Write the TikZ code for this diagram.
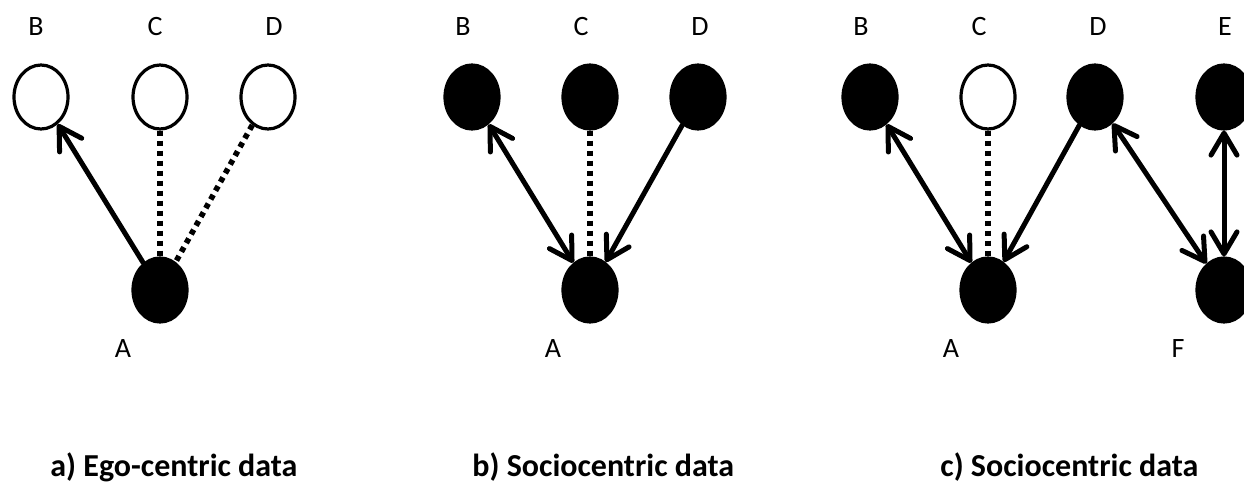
\documentclass[tikz,border=0pt]{standalone}
\usepackage{fontspec}
\setmainfont{Carlito}
\usetikzlibrary{shapes.geometric,arrows.meta}
\tikzset{
  pers/.style={ellipse,draw=black,line width=1.6pt,minimum width=27pt,minimum height=32pt,inner sep=0pt},
  openperson/.style={pers,fill=white},
  filledperson/.style={pers,fill=black},
  lbl/.style={font=\fontsize{14}{16}\selectfont,inner sep=0pt},
  captiontext/.style={font=\fontsize{16}{19}\selectfont\bfseries,inner sep=0pt,anchor=base west},
  tie/.style={line width=2.5pt,line cap=round,line join=round,
    arrows={-Straight Barb[length=11pt,width=13pt,line cap=round,line join=round]}},
  both/.style={tie,arrows={Straight Barb[length=11pt,width=13pt,line cap=round,line join=round]-Straight Barb[length=11pt,width=13pt,line cap=round,line join=round]}},
  unk/.style={line width=2.8pt,dash pattern=on 2.6pt off 2.4pt}
}
\begin{document}
\begin{tikzpicture}[x=0.5pt,y=-0.5pt]
\useasboundingbox (0,0) rectangle (1244,482);
\clip (0,0) rectangle (1244,482);
% panel a
\node[openperson] (aB) at (41,97) {};
\node[openperson] (aC) at (160,97) {};
\node[openperson] (aD) at (268,97) {};
\node[filledperson] (aA) at (160,290) {};
\node[lbl] (laB) at (36,27) {B};
\node[lbl] (laC) at (155,27) {C};
\node[lbl] (laD) at (274,27) {D};
\node[lbl] (laA) at (123,349) {A};
\draw[tie] (aA) -- (aB);
\draw[unk] (aC) -- (aA);
\draw[unk] (aD) -- (aA);
\node[captiontext] (capa) at (50,476) {a) Ego-centric data};
% panel b
\node[filledperson] (bB) at (472,97) {};
\node[filledperson] (bC) at (590,97) {};
\node[filledperson] (bD) at (698,97) {};
\node[filledperson] (bA) at (590,290) {};
\node[lbl] (lbB) at (463,27) {B};
\node[lbl] (lbC) at (581,27) {C};
\node[lbl] (lbD) at (700,27) {D};
\node[lbl] (lbA) at (553,349) {A};
\draw[both] (bB) -- (bA);
\draw[unk] (bC) -- (bA);
\draw[tie] (bD) -- (bA);
\node[captiontext] (capb) at (472,476) {b) Sociocentric data};
% panel c
\node[filledperson] (cB) at (870,97) {};
\node[openperson] (cC) at (988,97) {};
\node[filledperson] (cD) at (1095,97) {};
\node[filledperson] (cE) at (1224,97) {};
\node[filledperson] (cA) at (988,290) {};
\node[filledperson] (cF) at (1224,290) {};
\node[lbl] (lcB) at (861,27) {B};
\node[lbl] (lcC) at (979,27) {C};
\node[lbl] (lcD) at (1098,27) {D};
\node[lbl] (lcE) at (1225,27) {E};
\node[lbl] (lcA) at (951,349) {A};
\node[lbl] (lcF) at (1178,349) {F};
\draw[both] (cB) -- (cA);
\draw[unk] (cC) -- (cA);
\draw[tie] (cD) -- (cA);
\draw[both] (cD) -- (cF);
\draw[both] (cE) -- (cF);
\node[captiontext] (capc) at (940,476) {c) Sociocentric data};
\end{tikzpicture}
\end{document}
